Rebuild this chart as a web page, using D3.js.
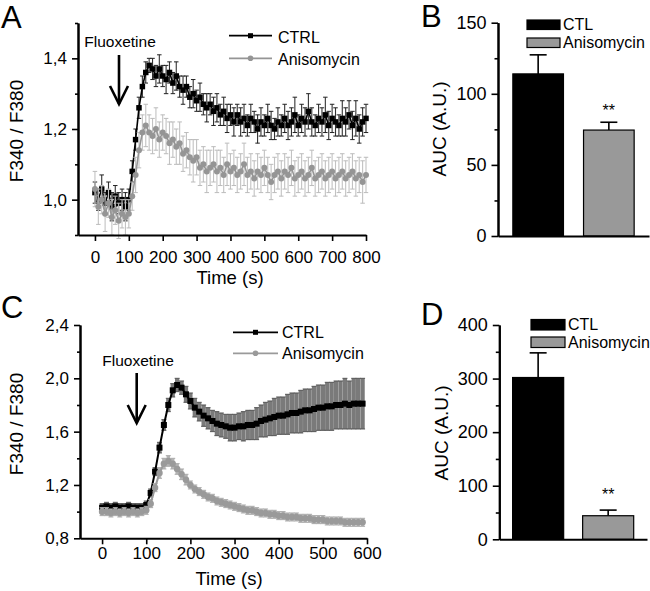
<!DOCTYPE html>
<html><head><meta charset="utf-8">
<script src="https://cdn.jsdelivr.net/npm/d3@7/dist/d3.min.js"></script>
<style>body{margin:0;background:#fff}svg{display:block}text{font-family:"Liberation Sans",Arial,sans-serif}</style>
</head><body>
<svg id="c" width="650" height="591"></svg>
<script>
// ---------- DATA ----------
const timeA = [0,10,20,30,40,50,60,70,80,90,100,110,120,130,140,150,160,170,180,190,200,210,220,230,240,250,260,270,280,290,300,310,320,330,340,350,360,370,380,390,400,410,420,430,440,450,460,470,480,490,500,510,520,530,540,550,560,570,580,590,600,610,620,630,640,650,660,670,680,690,700,710,720,730,740,750,760,770,780,790,800];
const ctrlA = [1.02,1.00,1.03,0.99,1.02,0.98,1.01,0.99,1.00,0.98,1.00,
  1.08,1.17,1.26,1.32,1.36,1.38,1.37,1.35,1.37,1.35,
  1.34,1.36,1.33,1.35,1.32,1.31,1.32,1.29,1.30,1.28,
  1.29,1.27,1.26,1.27,1.25,1.26,1.24,1.25,1.23,1.24,
  1.22,1.24,1.22,1.23,1.21,1.23,1.22,1.20,1.22,1.21,
  1.23,1.21,1.20,1.22,1.21,1.23,1.21,1.22,1.24,1.21,
  1.23,1.22,1.25,1.22,1.21,1.23,1.22,1.24,1.21,1.23,
  1.22,1.21,1.23,1.22,1.24,1.21,1.23,1.20,1.22,1.23];
const ctrlErrA = [0.03,0.03,0.04,0.03,0.03,0.04,0.03,0.03,0.03,0.04,0.03,
  0.03,0.03,0.03,0.03,0.03,0.02,0.03,0.03,0.04,0.03,
  0.04,0.03,0.03,0.04,0.03,0.04,0.03,0.03,0.04,0.03,
  0.04,0.03,0.04,0.03,0.04,0.04,0.03,0.04,0.04,0.03,
  0.04,0.03,0.04,0.04,0.03,0.04,0.03,0.04,0.04,0.03,
  0.04,0.04,0.03,0.04,0.03,0.04,0.04,0.04,0.05,0.03,
  0.04,0.04,0.05,0.04,0.03,0.04,0.04,0.05,0.04,0.04,
  0.04,0.03,0.05,0.04,0.04,0.04,0.05,0.04,0.04,0.04];
const anisoA = [1.03,0.98,1.00,0.96,0.99,0.95,0.97,0.94,0.96,0.95,0.96,
  1.01,1.07,1.14,1.19,1.21,1.19,1.18,1.20,1.17,1.19,
  1.18,1.16,1.17,1.15,1.16,1.13,1.14,1.12,1.11,1.12,
  1.09,1.10,1.08,1.09,1.10,1.08,1.09,1.07,1.10,1.08,
  1.09,1.07,1.08,1.10,1.07,1.08,1.06,1.08,1.07,1.09,
  1.07,1.05,1.07,1.08,1.06,1.08,1.07,1.09,1.06,1.07,
  1.08,1.06,1.07,1.09,1.06,1.07,1.08,1.06,1.07,1.08,
  1.06,1.07,1.08,1.06,1.07,1.08,1.06,1.07,1.05,1.07];
const anisoErrA = [0.05,0.05,0.04,0.05,0.04,0.05,0.04,0.05,0.04,0.05,0.04,
  0.04,0.05,0.05,0.05,0.06,0.05,0.05,0.06,0.05,0.05,
  0.05,0.06,0.05,0.05,0.06,0.05,0.05,0.05,0.06,0.05,
  0.05,0.05,0.06,0.05,0.05,0.06,0.05,0.05,0.06,0.05,
  0.05,0.05,0.05,0.06,0.05,0.05,0.05,0.05,0.05,0.05,
  0.05,0.05,0.05,0.05,0.05,0.05,0.05,0.05,0.05,0.05,
  0.05,0.05,0.05,0.05,0.05,0.05,0.05,0.05,0.05,0.05,
  0.05,0.05,0.05,0.05,0.05,0.05,0.05,0.05,0.06,0.05];

const timeC = [0,10,20,30,40,50,60,70,80,90,100,110,120,130,140,150,160,170,180,190,200,210,220,230,240,250,260,270,280,290,300,310,320,330,340,350,360,370,380,390,400,410,420,430,440,450,460,470,480,490,500,510,520,530,540,550,560,570,580,590];
const ctrlC = [1.03,1.04,1.03,1.04,1.03,1.03,1.04,1.03,1.03,1.03,1.05,
  1.14,1.30,1.48,1.65,1.80,1.91,1.95,1.93,1.88,1.83,
  1.78,1.75,1.72,1.70,1.68,1.66,1.65,1.64,1.63,1.63,
  1.64,1.64,1.65,1.65,1.66,1.68,1.69,1.70,1.71,1.72,
  1.72,1.73,1.74,1.74,1.75,1.76,1.76,1.77,1.78,1.78,
  1.79,1.79,1.80,1.80,1.81,1.80,1.81,1.81,1.81];
const ctrlErrC = [0.03,0.03,0.03,0.03,0.03,0.03,0.03,0.03,0.03,0.03,0.03,
  0.03,0.03,0.04,0.04,0.05,0.05,0.05,0.05,0.06,0.06,
  0.07,0.07,0.08,0.08,0.08,0.09,0.09,0.09,0.10,0.10,
  0.10,0.11,0.11,0.11,0.12,0.12,0.13,0.13,0.14,0.14,
  0.14,0.15,0.15,0.15,0.16,0.16,0.16,0.17,0.17,0.17,
  0.18,0.18,0.18,0.18,0.19,0.18,0.19,0.19,0.19];
const anisoC = [1.00,1.00,0.99,1.00,0.99,1.00,0.99,1.00,0.99,1.00,1.01,
  1.06,1.18,1.29,1.36,1.38,1.36,1.32,1.28,1.24,1.20,
  1.17,1.15,1.13,1.11,1.10,1.08,1.07,1.06,1.05,1.04,
  1.03,1.02,1.01,1.01,1.00,0.99,0.99,0.98,0.98,0.97,
  0.97,0.96,0.96,0.96,0.95,0.95,0.95,0.94,0.94,0.94,
  0.93,0.93,0.93,0.93,0.92,0.92,0.92,0.92,0.92];
const anisoErrC = [0.03,0.03,0.03,0.03,0.03,0.03,0.03,0.03,0.03,0.03,0.03,
  0.03,0.03,0.04,0.04,0.04,0.04,0.04,0.04,0.04,0.03,
  0.03,0.03,0.03,0.03,0.03,0.03,0.03,0.03,0.03,0.03,
  0.03,0.03,0.03,0.03,0.03,0.03,0.03,0.03,0.03,0.03,
  0.03,0.03,0.03,0.03,0.03,0.03,0.03,0.03,0.03,0.03,
  0.03,0.03,0.03,0.03,0.03,0.03,0.03,0.03,0.03];

const xTicksA = [0,100,200,300,400,500,600,700,800];
const yTicksA = [1.0,1.2,1.4];
const yMinorA = [0.9,1.1,1.3,1.5];
const xTicksC = [0,100,200,300,400,500,600];
const yTicksC = [0.8,1.2,1.6,2.0,2.4];
const yMinorC = [1.0,1.4,1.8,2.2];

const barGroups = ["CTL","Anisomycin"];
const aucB = [114, 74.5];
const aucErrB = [13.4, 5.5];
const aucD = [302, 44];
const aucErrD = [46, 10.5];
const yTicksB = [0,50,100,150];
const yMinorB = [25,75,125];
const yTicksD = [0,100,200,300,400];
const yMinorD = [50,150,250,350];

const lineLegend = ["CTRL","Anisomycin"];

// ---------- DRAW ----------
const svg = d3.select("#c");
const FONT = '"Liberation Sans",Arial,sans-serif';
const comma = d => d3.format(".1f")(d).replace(".", ",");

function styleAxis(g, fs){
  g.attr("font-family", FONT).attr("font-size", fs);
  g.select(".domain").attr("stroke","#000").attr("stroke-width",2);
  g.selectAll(".tick line").attr("stroke","#000").attr("stroke-width",1.6);
  g.selectAll(".tick text").attr("fill","#000");
}

function linePanel(o){
  const x = d3.scaleLinear().domain(o.xDomain).range([o.left, o.right]);
  const y = d3.scaleLinear().domain(o.yDomain).range([o.bottom, o.top]);

  o.series.forEach(s => {
    const g = svg.append("g");
    const idx = d3.range(s.t.length);
    g.selectAll("line.eb").data(idx).join("line")
      .attr("x1", i => x(s.t[i])).attr("x2", i => x(s.t[i]))
      .attr("y1", i => y(s.v[i] - s.e[i])).attr("y2", i => y(s.v[i] + s.e[i]))
      .attr("stroke", s.errColor).attr("stroke-width", s.errW);
    [1,-1].forEach(sg => {
      g.selectAll("line.cap"+sg).data(idx).join("line")
        .attr("x1", i => x(s.t[i]) - s.capW/2).attr("x2", i => x(s.t[i]) + s.capW/2)
        .attr("y1", i => y(s.v[i] + sg*s.e[i])).attr("y2", i => y(s.v[i] + sg*s.e[i]))
        .attr("stroke", s.capColor).attr("stroke-width", 1);
    });
    g.append("path").datum(idx)
      .attr("d", d3.line().x(i => x(s.t[i])).y(i => y(s.v[i])))
      .attr("fill","none").attr("stroke", s.color).attr("stroke-width", s.lineW);
    if (s.marker === "square") {
      g.selectAll("rect").data(idx).join("rect")
        .attr("x", i => x(s.t[i]) - s.size/2).attr("y", i => y(s.v[i]) - s.size/2)
        .attr("width", s.size).attr("height", s.size).attr("fill", s.color);
    } else {
      g.selectAll("circle").data(idx).join("circle")
        .attr("cx", i => x(s.t[i])).attr("cy", i => y(s.v[i]))
        .attr("r", s.size/2).attr("fill", s.color);
    }
  });

  const gx = svg.append("g").attr("transform", `translate(0,${o.bottom})`)
    .call(d3.axisBottom(x).tickValues(o.xTicks).tickSize(6).tickSizeOuter(0)
      .tickPadding(o.xPad).tickFormat(d3.format("d")));
  styleAxis(gx, o.tickFs);
  const gyMinor = svg.append("g").attr("transform", `translate(${o.left},0)`)
    .call(d3.axisLeft(y).tickValues(o.yMinor).tickSize(3).tickSizeOuter(0).tickFormat(""));
  styleAxis(gyMinor, o.tickFs);
  const gy = svg.append("g").attr("transform", `translate(${o.left},0)`)
    .call(d3.axisLeft(y).tickValues(o.yTicks).tickSize(6).tickSizeOuter(0)
      .tickPadding(o.yPad).tickFormat(comma));
  styleAxis(gy, o.tickFs);

  svg.append("text").attr("x", o.xTitle[0]).attr("y", o.xTitle[1])
    .attr("text-anchor","middle").attr("font-size", 18.5).text("Time (s)");
  svg.append("text").attr("transform", `translate(${o.yTitle[0]},${o.yTitle[1]}) rotate(-90)`)
    .attr("text-anchor","middle").attr("font-size", 19).text("F340 / F380");

  o.series.forEach((s, k) => {
    const ly = o.legend.y[k];
    svg.append("line").attr("x1", o.legend.x0).attr("x2", o.legend.x1)
      .attr("y1", ly).attr("y2", ly).attr("stroke", s.color).attr("stroke-width", 1.8);
    const mx = (o.legend.x0 + o.legend.x1)/2;
    if (s.marker === "square") {
      svg.append("rect").attr("x", mx - 2.5).attr("y", ly - 2.5).attr("width",5).attr("height",5).attr("fill", s.color);
    } else {
      svg.append("circle").attr("cx", mx).attr("cy", ly).attr("r", 2.8).attr("fill", s.color);
    }
    svg.append("text").attr("x", o.legend.tx).attr("y", o.legend.base[k])
      .attr("font-size", 16).text(lineLegend[k]);
  });

  svg.append("text").attr("x", o.fluo.tx).attr("y", o.fluo.ty)
    .attr("text-anchor","middle").attr("font-size", 15.5).text("Fluoxetine");
  svg.append("line").attr("x1", o.fluo.ax).attr("x2", o.fluo.ax)
    .attr("y1", o.fluo.ay0).attr("y2", o.fluo.ay1).attr("stroke","#000").attr("stroke-width",2.6);
  svg.append("polyline")
    .attr("points", `${o.fluo.ax-9},${o.fluo.ay1-18} ${o.fluo.ax},${o.fluo.ay1} ${o.fluo.ax+9},${o.fluo.ay1-18}`)
    .attr("fill","none").attr("stroke","#000").attr("stroke-width",2.6);

  svg.append("text").attr("x", o.letter[0]).attr("y", o.letter[1])
    .attr("font-size", 31).text(o.letter[2]);
}

function barPanel(o){
  const x = d3.scaleBand().domain(barGroups).range([o.left, o.right])
    .paddingInner(o.pi).paddingOuter(o.po);
  const y = d3.scaleLinear().domain(o.yDomain).range([o.bottom, o.top]);
  const fills = ["#000","#999"];
  barGroups.forEach((gname, i) => {
    const cx = x(gname) + x.bandwidth()/2;
    svg.append("line").attr("x1", cx).attr("x2", cx)
      .attr("y1", y(o.vals[i])).attr("y2", y(o.vals[i] + o.errs[i]))
      .attr("stroke","#000").attr("stroke-width",1.6);
    svg.append("line").attr("x1", cx - 8.5).attr("x2", cx + 8.5)
      .attr("y1", y(o.vals[i] + o.errs[i])).attr("y2", y(o.vals[i] + o.errs[i]))
      .attr("stroke","#000").attr("stroke-width",1.6);
    svg.append("rect").attr("x", x(gname)).attr("y", y(o.vals[i]))
      .attr("width", x.bandwidth()).attr("height", y(0) - y(o.vals[i]))
      .attr("fill", fills[i]).attr("stroke","#000").attr("stroke-width",1.2);
  });
  const cx2 = x(barGroups[1]) + x.bandwidth()/2;
  svg.append("text").attr("x", cx2).attr("y", o.starY).attr("text-anchor","middle")
    .attr("font-size", 16).text("**");

  const gx = svg.append("g").attr("transform", `translate(0,${o.bottom})`)
    .call(d3.axisBottom(x).tickSize(0).tickSizeOuter(0).tickFormat(""));
  styleAxis(gx, 18);
  const gyMinor = svg.append("g").attr("transform", `translate(${o.left},0)`)
    .call(d3.axisLeft(y).tickValues(o.yMinor).tickSize(3.5).tickSizeOuter(0).tickFormat(""));
  styleAxis(gyMinor, 18);
  const gy = svg.append("g").attr("transform", `translate(${o.left},0)`)
    .call(d3.axisLeft(y).tickValues(o.yTicks).tickSize(6.5).tickSizeOuter(0)
      .tickPadding(5).tickFormat(d3.format("d")));
  styleAxis(gy, 18);

  svg.append("text").attr("transform", `translate(${o.yTitle[0]},${o.yTitle[1]}) rotate(-90)`)
    .attr("text-anchor","middle").attr("font-size", 19).text("AUC (A.U.)");

  barGroups.forEach((gname, i) => {
    svg.append("rect").attr("x", o.leg.x).attr("y", o.leg.y[i])
      .attr("width", o.leg.w).attr("height", o.leg.h)
      .attr("fill", fills[i]).attr("stroke","#000").attr("stroke-width",1.2);
    svg.append("text").attr("x", o.leg.tx).attr("y", o.leg.base[i])
      .attr("font-size", 16).text(gname);
  });

  svg.append("text").attr("x", o.letter[0]).attr("y", o.letter[1])
    .attr("font-size", 31).text(o.letter[2]);
}

linePanel({
  xDomain:[-50,800], yDomain:[0.9,1.5], left:78, right:366, bottom:235, top:23,
  xTicks:xTicksA, yTicks:yTicksA, yMinor:yMinorA, xPad:10, yPad:5, tickFs:17,
  xTitle:[230,284], yTitle:[23,131],
  series:[
    {t:timeA, v:ctrlA, e:ctrlErrA, color:"#000", errColor:"#333", capColor:"#222", marker:"square", size:5.5, errW:1.1, capW:4.5, lineW:1.6},
    {t:timeA, v:anisoA, e:anisoErrA, color:"#959595", errColor:"#c2c2c2", capColor:"#bbb", marker:"circle", size:6, errW:1.1, capW:4.5, lineW:1.6}
  ],
  legend:{x0:229, x1:272, y:[35.7,58.3], tx:278, base:[43,65]},
  fluo:{tx:120, ty:47, ax:119, ay0:55, ay1:104},
  letter:[1,28,"A"]
});

linePanel({
  xDomain:[-50,600], yDomain:[0.8,2.4], left:80, right:367, bottom:538.3, top:325,
  xTicks:xTicksC, yTicks:yTicksC, yMinor:yMinorC, xPad:3, yPad:5, tickFs:17,
  xTitle:[229,585], yTitle:[23,424],
  series:[
    {t:timeC, v:ctrlC, e:ctrlErrC, color:"#000", errColor:"#7a7a7a", capColor:"#555", marker:"square", size:6, errW:4.3, capW:5, lineW:2},
    {t:timeC, v:anisoC, e:anisoErrC, color:"#9a9a9a", errColor:"#b4b4b4", capColor:"#aaa", marker:"circle", size:6.5, errW:3.5, capW:5, lineW:2}
  ],
  legend:{x0:233, x1:278, y:[332.3,353.3], tx:282, base:[337.5,358.5]},
  fluo:{tx:138, ty:366, ax:136.7, ay0:373, ay1:423},
  letter:[1,318,"C"]
});

barPanel({
  left:498, right:649, pi:0.284, po:0.21, yDomain:[0,150], bottom:236, top:22.7,
  vals:aucB, errs:aucErrB, yTicks:yTicksB, yMinor:yMinorB, starY:116,
  yTitle:[446,129],
  leg:{x:527, y:[20,38], w:33, h:9.5, tx:563, base:[30,48]},
  letter:[421,27,"B"]
});

barPanel({
  left:499.3, right:647, pi:0.271, po:0.19, yDomain:[0,400], bottom:539.3, top:325,
  vals:aucD, errs:aucErrD, yTicks:yTicksD, yMinor:yMinorD, starY:500,
  yTitle:[448,433],
  leg:{x:531, y:[319.5,337], w:34, h:10.5, tx:568, base:[330,348]},
  letter:[421,325,"D"]
});
</script>
</body></html>
